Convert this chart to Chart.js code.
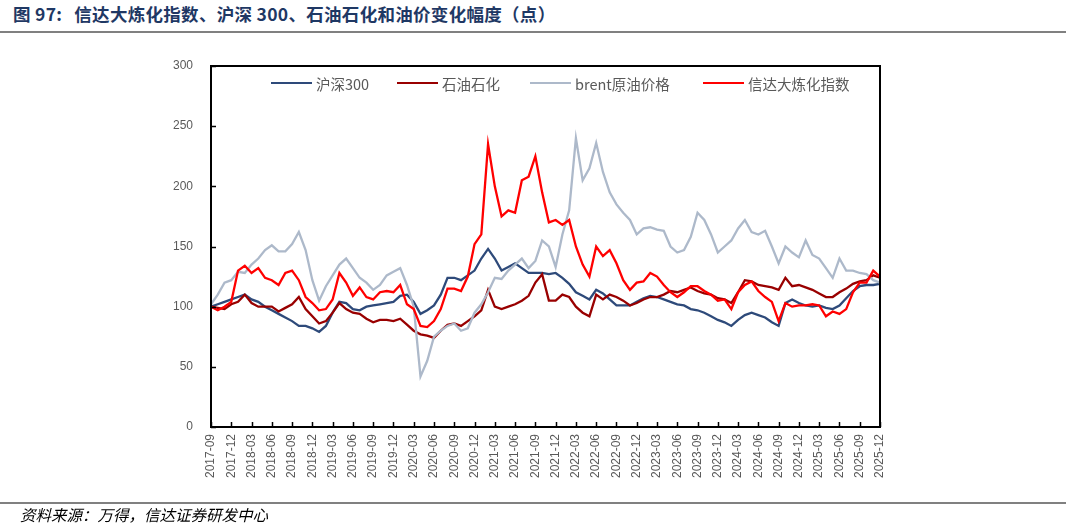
<!DOCTYPE html>
<html>
<head>
<meta charset="utf-8">
<script src="https://cdn.jsdelivr.net/npm/chart.js@4.4.1/dist/chart.umd.min.js"></script>
<style>
  html, body { margin:0; padding:0; background:#fff; }
  #wrap { position:relative; width:1072px; height:528px; overflow:hidden; font-family:"Noto Sans CJK SC", "Liberation Sans", sans-serif; }
  #c { position:absolute; left:0; top:0; }
  #title { position:absolute; left:13px; top:1px; font-size:17.5px; font-weight:bold; color:#1f3864; white-space:nowrap; letter-spacing:0.3px; }
  #title .gap { display:inline-block; width:12px; }
  .rule { position:absolute; left:0; width:1066px; height:2px; background:#808080; }
  #source { position:absolute; left:20px; top:503px; font-size:15.5px; font-style:italic; color:#000; white-space:nowrap; }
  .lg { position:absolute; top:73px; height:20px; display:flex; align-items:center; white-space:nowrap; font-size:14.5px; color:#595959; }
  .lg span.ln { display:inline-block; width:41px; height:2.5px; margin-right:4px; }
</style>
</head>
<body>
<div id="wrap">
  <div id="title">图 97:<span class="gap"></span>信达大炼化指数、沪深 300、石油石化和油价变化幅度（点）</div>
  <div class="rule" style="top:31px;"></div>
  <canvas id="c" width="1072" height="528"></canvas>
  <div class="lg" style="left:271px;"><span class="ln" style="background:#2e4a7a"></span>沪深300</div>
  <div class="lg" style="left:397px;"><span class="ln" style="background:#990000"></span>石油石化</div>
  <div class="lg" style="left:530px;"><span class="ln" style="background:#adb9ca"></span>brent原油价格</div>
  <div class="lg" style="left:703px;"><span class="ln" style="background:#ff0000"></span>信达大炼化指数</div>
  <div class="rule" style="top:502px;"></div>
  <div id="source">资料来源：万得，信达证券研发中心</div>
</div>
<script>
const categories = [
 "2017-09","2017-10","2017-11","2017-12",
 "2018-01","2018-02","2018-03","2018-04","2018-05","2018-06","2018-07","2018-08","2018-09","2018-10","2018-11","2018-12",
 "2019-01","2019-02","2019-03","2019-04","2019-05","2019-06","2019-07","2019-08","2019-09","2019-10","2019-11","2019-12",
 "2020-01","2020-02","2020-03","2020-04","2020-05","2020-06","2020-07","2020-08","2020-09","2020-10","2020-11","2020-12",
 "2021-01","2021-02","2021-03","2021-04","2021-05","2021-06","2021-07","2021-08","2021-09","2021-10","2021-11","2021-12",
 "2022-01","2022-02","2022-03","2022-04","2022-05","2022-06","2022-07","2022-08","2022-09","2022-10","2022-11","2022-12",
 "2023-01","2023-02","2023-03","2023-04","2023-05","2023-06","2023-07","2023-08","2023-09","2023-10","2023-11","2023-12",
 "2024-01","2024-02","2024-03","2024-04","2024-05","2024-06","2024-07","2024-08","2024-09","2024-10","2024-11","2024-12",
 "2025-01","2025-02","2025-03","2025-04","2025-05","2025-06","2025-07","2025-08","2025-09","2025-10","2025-11","2025-12"
];

const hs300 = [
 100,102,104,106,108,110,106,104,100,97,
 94,91,88,84,84,82,79,84,95,104,
 103,98,97,100,101,102,103,104,109,110,
 104,94,97,101,110,124,124,122,126,130,
 140,148,140,130,133,136,132,128,128,128,
 127,128,124,119,112,109,106,114,111,106,
 101,101,101,104,107,109,108,106,104,102,
 101,98,97,95,92,89,87,84,89,93,
 95,93,91,87,84,103,106,103,101,100,
 101,99,98,101,107,113,117,118,118,119
];

const petro = [
 100,99,98,102,104,110,103,100,100,100,
 96,99,102,108,98,92,86,88,95,103,
 98,95,94,90,87,89,89,88,90,85,
 80,77,76,74,80,85,86,84,88,92,
 97,114,100,98,100,102,105,109,120,127,
 105,105,110,108,100,95,92,110,106,110,
 108,105,101,103,106,108,108,110,113,112,
 114,116,113,111,110,107,106,103,112,122,
 121,118,117,116,114,124,117,118,116,114,
 111,108,108,112,115,119,121,122,126,124
];

const brent = [
 102,110,120,122,129,128,135,140,147,151,
 146,146,152,162,147,122,105,117,126,135,
 140,132,124,120,114,118,126,129,132,118,
 100,42,55,75,80,84,86,80,82,95,
 102,112,124,123,130,135,140,132,138,155,
 150,133,160,180,240,205,215,236,212,195,
 185,178,172,160,165,166,164,163,150,145,
 147,158,178,172,160,145,150,155,165,172,
 162,160,163,150,136,150,145,141,155,143,
 140,132,124,140,130,130,128,127,122,120
];

const xinda = [
 100,97,100,104,130,134,128,132,124,122,
 118,128,130,122,108,103,97,98,106,128,
 120,109,116,108,106,112,113,112,118,102,
 98,84,83,88,98,115,115,113,125,152,
 160,235,200,175,180,178,205,208,225,195,
 170,172,168,172,150,135,125,150,142,147,
 136,122,114,120,121,128,125,118,112,108,
 112,117,117,113,110,105,106,98,112,118,
 121,113,108,104,88,103,100,101,101,102,
 101,92,96,94,98,112,120,120,130,125
];

const yTicks = [0, 50, 100, 150, 200, 250, 300];

const framePlugin = {
  id: 'frame',
  afterDraw(chart) {
    const { ctx, chartArea, scales } = chart;
    const { left, right, top, bottom } = chartArea;
    ctx.save();
    ctx.strokeStyle = '#000';
    ctx.lineWidth = 2;
    ctx.strokeRect(left, top, right - left, bottom - top);
    ctx.lineWidth = 1.5;
    ctx.beginPath();
    yTicks.forEach(v => {
      const py = Math.round(scales.y.getPixelForValue(v)) + 0.5;
      ctx.moveTo(left, py); ctx.lineTo(left + 5, py);
    });
    categories.forEach((c, i) => {
      if (i % 3 === 0) {
        const px = Math.round(scales.x.getPixelForValue(i)) + 0.5;
        ctx.moveTo(px, bottom); ctx.lineTo(px, bottom - 5);
      }
    });
    ctx.stroke();
    ctx.restore();
  }
};

const mk = (label, data, color, order) => ({
  label, data, borderColor: color, backgroundColor: color,
  borderWidth: 2.3, pointRadius: 0, tension: 0, fill: false, order
});

new Chart(document.getElementById('c'), {
  type: 'line',
  data: {
    labels: categories,
    datasets: [
      mk('沪深300', hs300, '#2e4a7a', 4),
      mk('石油石化', petro, '#990000', 3),
      mk('brent原油价格', brent, '#adb9ca', 2),
      mk('信达大炼化指数', xinda, '#ff0000', 1)
    ]
  },
  options: {
    responsive: false,
    animation: false,
    devicePixelRatio: 1,
    layout: { padding: { left: 0, right: 192, top: 66, bottom: 0 } },
    plugins: { legend: { display: false }, tooltip: { enabled: false } },
    scales: {
      x: {
        grid: { display: false, drawTicks: false },
        border: { display: false },
        ticks: {
          autoSkip: false, maxRotation: 90, minRotation: 90, padding: 7,
          color: '#595959', font: { size: 12, family: 'Liberation Sans' },
          callback: (v, i) => (i % 3 === 0 ? categories[i] : '')
        },
        afterFit: s => { s.height = 101; }
      },
      y: {
        min: 0, max: 300,
        grid: { display: false, drawTicks: false },
        border: { display: false },
        ticks: {
          stepSize: 50, padding: 18, color: '#595959',
          font: { size: 12, family: 'Liberation Sans' }
        },
        afterFit: s => { s.width = 211; }
      }
    }
  },
  plugins: [framePlugin]
});
</script>
</body>
</html>
